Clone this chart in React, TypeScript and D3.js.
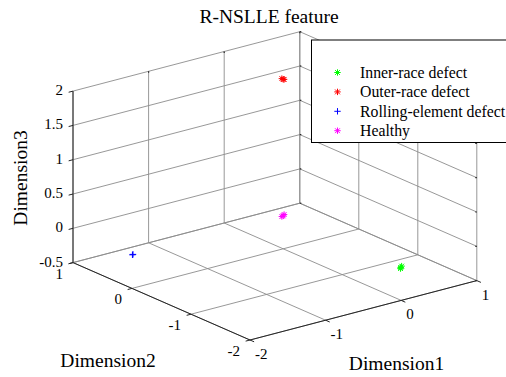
import React from "react";
import * as d3 from "d3";

// Axis ticks
const xTicks = [-2, -1, 0, 1];
const yTicks = [-2, -1, 0, 1];
const zTicks = [-0.5, 0, 0.5, 1, 1.5, 2];
const zTickLabels = ["-0.5", "0", "0.5", "1", "1.5", "2"];

// Series: [Dimension1, Dimension2, Dimension3]
const innerRace: [number, number, number][] = [
  [-0.03, -2.03, 0.0],
  [-0.01, -2.02, 0.01],
  [-0.04, -2.04, -0.01],
];
const outerRace: [number, number, number][] = [
  [0.0, 0.0, 1.97],
  [0.02, 0.01, 1.96],
  [-0.01, 0.01, 1.98],
];
const rollingElement: [number, number, number][] = [
  [-2.01, -0.02, 0.0],
  [-2.01, -0.03, 0.01],
];
const healthy: [number, number, number][] = [
  [0.0, 0.0, -0.02],
  [0.02, 0.01, -0.01],
  [-0.01, 0.01, -0.03],
];

const seriesNames = ["Inner-race defect", "Outer-race defect", "Rolling-element defect", "Healthy"];
const seriesColors = ["#00ff00", "#ff0000", "#0000ff", "#ff00ff"];
const seriesMarkers = ["*", "*", "+", "*"];
const seriesData = [innerRace, outerRace, rollingElement, healthy];

// Oblique projection of the 3-D box (MATLAB default view)
const front = { x: 250, y: 340 }; // corner at (xmin, ymin, zmin)
const xSpan = { x: 226.8, y: -59.4 };
const ySpan = { x: -177, y: -77.4 };
const zSpan = { x: 0, y: -171.5 };

const fx = d3.scaleLinear().domain([-2, 1]).range([0, 1]);
const fy = d3.scaleLinear().domain([-2, 1]).range([0, 1]);
const fz = d3.scaleLinear().domain([-0.5, 2]).range([0, 1]);

function proj(x: number, y: number, z: number): [number, number] {
  const a = fx(x), b = fy(y), c = fz(z);
  return [
    front.x + a * xSpan.x + b * ySpan.x + c * zSpan.x,
    front.y + a * xSpan.y + b * ySpan.y + c * zSpan.y,
  ];
}

const line = d3.line<[number, number]>();

function Marker({ p, kind, color }: { p: [number, number]; kind: string; color: string }) {
  const [cx, cy] = p;
  const r = 3.2;
  const d = 2.4;
  const parts: string[] = [`M${cx - r},${cy}L${cx + r},${cy}`, `M${cx},${cy - r}L${cx},${cy + r}`];
  if (kind === "*") {
    parts.push(`M${cx - d},${cy - d}L${cx + d},${cy + d}`, `M${cx - d},${cy + d}L${cx + d},${cy - d}`);
  }
  return <path d={parts.join("")} stroke={color} strokeWidth={1} fill="none" />;
}

export default function App() {
  const grid = "#8c8c8c";
  const axis = "#262626";
  const font = "'Liberation Serif', 'Times New Roman', serif";
  const xs = d3.extent(xTicks) as [number, number];
  const ys = d3.extent(yTicks) as [number, number];
  const zs = d3.extent(zTicks) as [number, number];
  const gridLines: [number, number][][] = [];
  // back wall y = ymax
  xTicks.forEach((x) => gridLines.push([proj(x, ys[1], zs[0]), proj(x, ys[1], zs[1])]));
  zTicks.forEach((z) => gridLines.push([proj(xs[0], ys[1], z), proj(xs[1], ys[1], z)]));
  // back wall x = xmax
  yTicks.forEach((y) => gridLines.push([proj(xs[1], y, zs[0]), proj(xs[1], y, zs[1])]));
  zTicks.forEach((z) => gridLines.push([proj(xs[1], ys[0], z), proj(xs[1], ys[1], z)]));
  // floor z = zmin
  xTicks.forEach((x) => gridLines.push([proj(x, ys[0], zs[0]), proj(x, ys[1], zs[0])]));
  yTicks.forEach((y) => gridLines.push([proj(xs[0], y, zs[0]), proj(xs[1], y, zs[0])]));

  // unit directions for tick marks
  const xd = proj(xs[0] - 1, 0, 0), x0 = proj(xs[0], 0, 0);
  const xdir = [xd[0] - x0[0], xd[1] - x0[1]];
  const xl = Math.hypot(xdir[0], xdir[1]);
  const yd = proj(0, ys[0] - 1, 0), y0 = proj(0, ys[0], 0);
  const ydir = [yd[0] - y0[0], yd[1] - y0[1]];
  const yl = Math.hypot(ydir[0], ydir[1]);
  const tl = 4.5;

  return (
    <svg width={506} height={377} style={{ position: "absolute", left: 0, top: 0, background: "#fff" }}>
      <rect width={506} height={377} fill="#fff" />
      <text x={269} y={23} textAnchor="middle" fontFamily={font} fontSize={19.5}>
        R-NSLLE feature
      </text>
      <g>
        {gridLines.map((l, i) => (
          <path key={i} d={line(l) || ""} stroke={grid} strokeWidth={0.9} fill="none" />
        ))}
      </g>
      {/* small tick marks on the far box edges */}
      <g stroke={axis} strokeWidth={1.2}>
        {xTicks.slice(1).map((x, i) => {
          const p = proj(x, ys[1], zs[1]);
          return <path key={"tx" + i} d={`M${p[0]},${p[1]}L${p[0]},${p[1] + 1.5}`} />;
        })}
        {zTicks.map((z, i) => {
          const p = proj(xs[1], ys[0], z);
          const q = proj(xs[1], ys[1], z);
          return (
            <g key={"tz" + i}>
              <path d={`M${p[0] - 1.5},${p[1]}L${p[0]},${p[1]}`} />
              <path d={`M${q[0]},${q[1]}L${q[0] + 1.5},${q[1]}`} />
            </g>
          );
        })}
      </g>
      {/* axes */}
      <g stroke={axis} strokeWidth={1} fill="none">
        <path d={line([proj(xs[0], ys[1], zs[0]), proj(xs[0], ys[1], zs[1])]) || ""} />
        <path d={line([proj(xs[0], ys[1], zs[0]), proj(xs[0], ys[0], zs[0])]) || ""} />
        <path d={line([proj(xs[0], ys[0], zs[0]), proj(xs[1], ys[0], zs[0])]) || ""} />
        {zTicks.map((z, i) => {
          const p = proj(xs[0], ys[1], z);
          return <path key={"zt" + i} d={`M${p[0]},${p[1]}L${p[0] + (xdir[0] / xl) * tl},${p[1] + (xdir[1] / xl) * tl}`} />;
        })}
        {yTicks.map((y, i) => {
          const p = proj(xs[0], y, zs[0]);
          return <path key={"yt" + i} d={`M${p[0]},${p[1]}L${p[0] + (xdir[0] / xl) * tl},${p[1] + (xdir[1] / xl) * tl}`} />;
        })}
        {xTicks.map((x, i) => {
          const p = proj(x, ys[0], zs[0]);
          return <path key={"xt" + i} d={`M${p[0]},${p[1]}L${p[0] + (ydir[0] / yl) * tl},${p[1] + (ydir[1] / yl) * tl}`} />;
        })}
      </g>
      {/* tick labels */}
      <g fontFamily={font} fontSize={15} fill="#000">
        {zTicks.map((z, i) => {
          const p = proj(xs[0], ys[1], z);
          return (
            <text key={"zl" + i} x={p[0] - 10} y={p[1] - 1} textAnchor="end" dominantBaseline="central">
              {zTickLabels[i]}
            </text>
          );
        })}
        {yTicks.map((y, i) => {
          const p = proj(xs[0], y, zs[0]);
          return (
            <text key={"yl" + i} x={p[0] - 10} y={p[1] + 11} textAnchor="end" dominantBaseline="central">
              {String(y)}
            </text>
          );
        })}
        {xTicks.map((x, i) => {
          const p = proj(x, ys[0], zs[0]);
          return (
            <text key={"xl" + i} x={p[0] + 5} y={p[1] + 14} textAnchor="start" dominantBaseline="central">
              {String(x)}
            </text>
          );
        })}
      </g>
      {/* axis labels */}
      <g fontFamily={font} fontSize={19.5} fill="#000">
        <text x={396.5} y={370} textAnchor="middle">Dimension1</text>
        <text x={108} y={367} textAnchor="middle">Dimension2</text>
        <text transform="translate(27,178) rotate(-90)" textAnchor="middle">Dimension3</text>
      </g>
      {/* data */}
      <g>
        {seriesData.map((pts, si) =>
          pts.map((pt, j) => (
            <Marker key={si + "-" + j} p={proj(pt[0], pt[1], pt[2])} kind={seriesMarkers[si]} color={seriesColors[si]} />
          ))
        )}
      </g>
      {/* legend */}
      <g>
        <rect x={311.5} y={40} width={220} height={102.5} fill="#fff" stroke="#000" strokeWidth={1} />
        {seriesNames.map((name, i) => {
          const cy = 72.5 + i * 19.4;
          return (
            <g key={name}>
              <Marker p={[337.5, cy]} kind={seriesMarkers[i]} color={seriesColors[i]} />
              <text x={360} y={cy} dominantBaseline="central" fontFamily={font} fontSize={15.8}>
                {name}
              </text>
            </g>
          );
        })}
      </g>
    </svg>
  );
}
